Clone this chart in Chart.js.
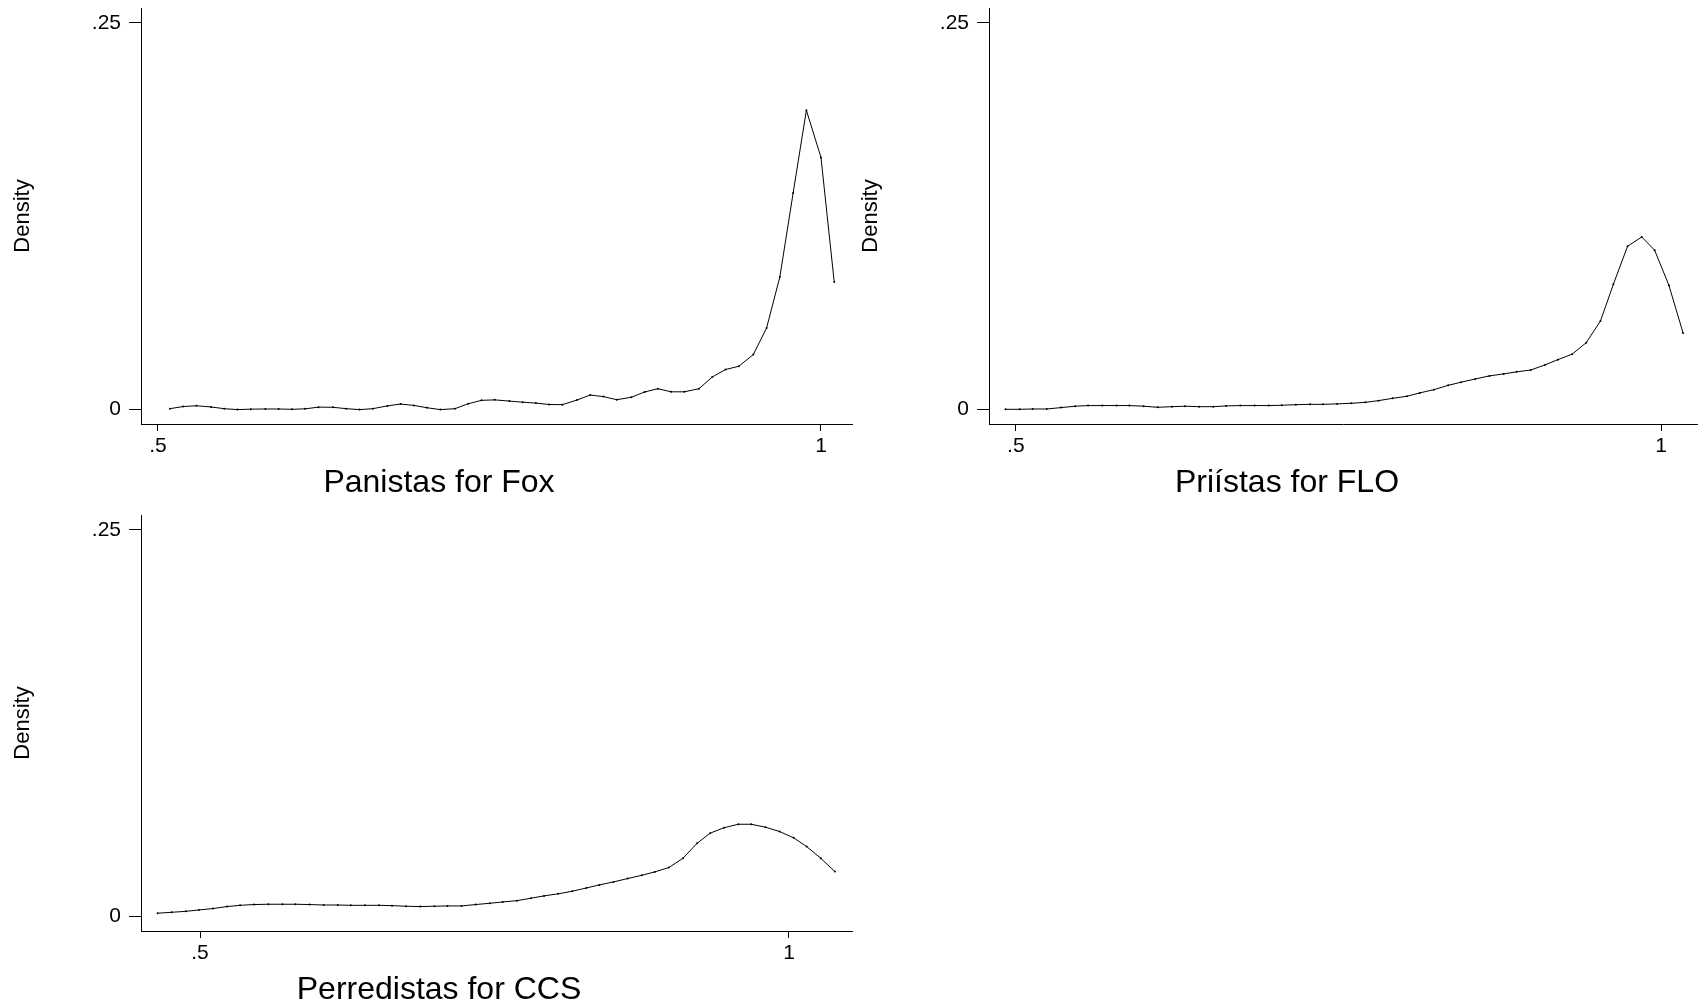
<!DOCTYPE html>
<html>
<head>
<meta charset="utf-8">
<script src="https://cdn.jsdelivr.net/npm/chart.js@4.4.1/dist/chart.umd.min.js"></script>
<style>
  html, body { margin: 0; padding: 0; background: #fff; }
  #wrap { position: relative; width: 1701px; height: 1003px; }
  #wrap canvas { position: absolute; left: 0; top: 0; }
</style>
</head>
<body>
<div id="wrap">
  <canvas id="fox" width="1701" height="1003"></canvas>
  <canvas id="flo" width="1701" height="1003"></canvas>
  <canvas id="ccs" width="1701" height="1003"></canvas>
</div>
<script>
// kernel density estimates, 50 points each
const foxX = [0.509, 0.519, 0.529, 0.540, 0.550, 0.560, 0.570, 0.581, 0.591, 0.601,
              0.611, 0.621, 0.632, 0.642, 0.652, 0.662, 0.673, 0.683, 0.693, 0.703,
              0.713, 0.724, 0.734, 0.744, 0.754, 0.765, 0.775, 0.785, 0.795, 0.805,
              0.816, 0.826, 0.836, 0.846, 0.857, 0.867, 0.877, 0.887, 0.897, 0.908,
              0.918, 0.928, 0.938, 0.949, 0.959, 0.969, 0.979, 0.989, 1.000, 1.010];
const foxDensity = [0.0006, 0.0020, 0.0025, 0.0017, 0.0006, 0.0000, 0.0003, 0.0004, 0.0004, 0.0002,
                    0.0005, 0.0016, 0.0015, 0.0006, 0.0000, 0.0006, 0.0024, 0.0036, 0.0027, 0.0012,
                    0.0000, 0.0006, 0.0038, 0.0060, 0.0063, 0.0055, 0.0048, 0.0042, 0.0033, 0.0032,
                    0.0062, 0.0094, 0.0084, 0.0064, 0.0080, 0.0114, 0.0135, 0.0115, 0.0115, 0.0135,
                    0.0211, 0.0259, 0.0280, 0.0356, 0.0528, 0.0858, 0.1400, 0.1935, 0.1630, 0.0825];

const floX = [0.492, 0.503, 0.513, 0.524, 0.535, 0.546, 0.556, 0.567, 0.578, 0.588,
              0.599, 0.610, 0.621, 0.631, 0.642, 0.653, 0.663, 0.674, 0.685, 0.696,
              0.706, 0.717, 0.728, 0.738, 0.749, 0.760, 0.771, 0.781, 0.792, 0.803,
              0.813, 0.824, 0.835, 0.845, 0.856, 0.867, 0.878, 0.888, 0.899, 0.910,
              0.920, 0.931, 0.942, 0.953, 0.963, 0.974, 0.985, 0.995, 1.006, 1.017];
const floDensity = [0.0002, 0.0002, 0.0004, 0.0004, 0.0013, 0.0022, 0.0026, 0.0026, 0.0026, 0.0026,
                    0.0022, 0.0015, 0.0019, 0.0022, 0.0019, 0.0019, 0.0024, 0.0026, 0.0026, 0.0026,
                    0.0028, 0.0032, 0.0034, 0.0034, 0.0037, 0.0041, 0.0047, 0.0058, 0.0073, 0.0086,
                    0.0108, 0.0129, 0.0157, 0.0177, 0.0198, 0.0218, 0.0231, 0.0244, 0.0256, 0.0289,
                    0.0323, 0.0358, 0.0433, 0.0573, 0.0810, 0.1056, 0.1116, 0.1030, 0.0804, 0.0496];

const ccsX = [0.464, 0.476, 0.488, 0.499, 0.511, 0.523, 0.534, 0.546, 0.558, 0.570,
              0.581, 0.593, 0.605, 0.617, 0.628, 0.640, 0.652, 0.663, 0.675, 0.687,
              0.699, 0.710, 0.722, 0.734, 0.746, 0.757, 0.769, 0.781, 0.792, 0.804,
              0.816, 0.828, 0.839, 0.851, 0.863, 0.875, 0.886, 0.898, 0.910, 0.922,
              0.933, 0.945, 0.957, 0.968, 0.980, 0.992, 1.004, 1.015, 1.027, 1.039];
const ccsDensity = [0.0022, 0.0028, 0.0034, 0.0043, 0.0052, 0.0065, 0.0073, 0.0078, 0.0080, 0.0080,
                    0.0080, 0.0078, 0.0075, 0.0075, 0.0073, 0.0073, 0.0073, 0.0071, 0.0067, 0.0065,
                    0.0067, 0.0069, 0.0069, 0.0078, 0.0086, 0.0095, 0.0103, 0.0119, 0.0134, 0.0147,
                    0.0164, 0.0185, 0.0205, 0.0224, 0.0246, 0.0267, 0.0289, 0.0317, 0.0377, 0.0474,
                    0.0539, 0.0575, 0.0597, 0.0597, 0.0578, 0.0550, 0.0509, 0.0453, 0.0377, 0.0291];

const xTickValues = [0.5, 1];
const xTickLabels = ['.5', '1'];
const yTickValues = [0, 0.25];
const yTickLabels = ['0', '.25'];

const FONT = "'Liberation Sans', Arial, sans-serif";
const W = 1701, H = 1003;
const Y_AXIS_W = 115, X_AXIS_H = 36;
const TITLE_SIZE = 32, TITLE_LH = 0.8, TITLE_PAD = 10;

function drawPanel(id, xs, ys, title, area, xRange) {
    const points = xs.map((x, i) => ({x: x, y: ys[i]}));
    const titleBox = X_AXIS_H + TITLE_SIZE * TITLE_LH + TITLE_PAD;
    return new Chart(document.getElementById(id), {
        type: 'line',
        data: {
            datasets: [{
                data: points,
                borderColor: '#000',
                borderWidth: 1,
                pointRadius: 1,
                pointBackgroundColor: '#000',
                pointBorderWidth: 0,
                tension: 0,
                fill: false
            }]
        },
        options: {
            responsive: false,
            animation: false,
            events: [],
            layout: {
                padding: {
                    left: area.left - Y_AXIS_W,
                    top: area.top,
                    right: W - area.right,
                    bottom: Math.max(0, H - area.bottom - titleBox)
                }
            },
            plugins: {
                legend: {display: false},
                tooltip: {enabled: false},
                title: {
                    display: true, position: 'bottom', text: title, color: '#000',
                    font: {family: FONT, size: TITLE_SIZE, weight: 'normal', lineHeight: TITLE_LH},
                    padding: {top: TITLE_PAD, bottom: 0}
                }
            },
            scales: {
                x: {
                    type: 'linear',
                    min: xRange[0],
                    max: xRange[1],
                    afterBuildTicks: s => { s.ticks = xTickValues.map(v => ({value: v})); },
                    afterFit: s => {
                        s.height = X_AXIS_H;
                        s.paddingLeft = s.paddingRight = 0;
                    },
                    grid: {drawOnChartArea: false, tickLength: 7, color: '#000'},
                    border: {color: '#000', width: 1},
                    ticks: {
                        color: '#000', padding: 3, maxRotation: 0, autoSkip: false,
                        font: {family: FONT, size: 21},
                        callback: (v, i) => xTickLabels[i]
                    }
                },
                y: {
                    min: -0.0093,
                    max: 0.2596,
                    afterBuildTicks: s => { s.ticks = yTickValues.map(v => ({value: v})); },
                    afterFit: s => {
                        s.width = Y_AXIS_W;
                        s.paddingTop = s.paddingBottom = 0;
                    },
                    grid: {drawOnChartArea: false, tickLength: 12, color: '#000'},
                    border: {color: '#000', width: 1},
                    ticks: {
                        color: '#000', padding: 8, autoSkip: false,
                        font: {family: FONT, size: 21},
                        callback: (v, i) => yTickLabels[i]
                    },
                    title: {
                        display: true, text: 'Density', color: '#000',
                        font: {family: FONT, size: 22, lineHeight: 1},
                        padding: {top: -14, bottom: 0}
                    }
                }
            }
        }
    });
}

drawPanel('fox', foxX, foxDensity, 'Panistas for Fox',
          {left: 141, top: 8, right: 852, bottom: 424}, [0.4872, 1.0234]);
drawPanel('flo', floX, floDensity, 'Priístas for FLO',
          {left: 989, top: 8, right: 1700, bottom: 424}, [0.4792, 1.0278]);
drawPanel('ccs', ccsX, ccsDensity, 'Perredistas for CCS',
          {left: 141, top: 515, right: 852, bottom: 931}, [0.4499, 1.0535]);
</script>
</body>
</html>
